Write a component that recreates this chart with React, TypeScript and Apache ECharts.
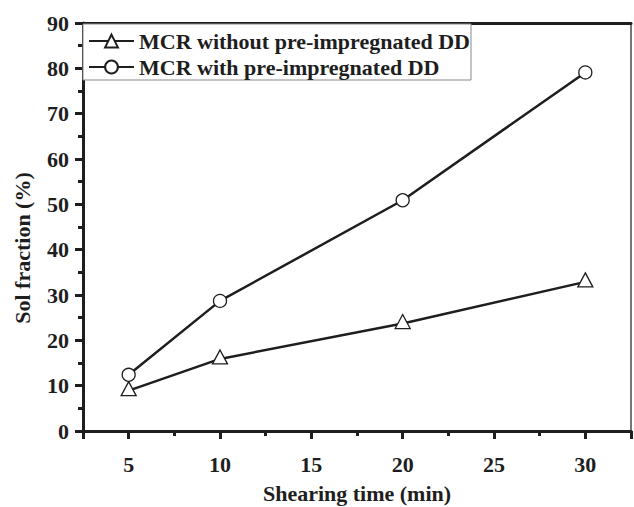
import React, { useEffect, useRef } from "react";
import * as echarts from "echarts";

const shearingTime = [5, 10, 20, 30];
const withoutPreImpregnated = [8.9, 15.9, 23.7, 32.9];
const withPreImpregnated = [12.4, 28.7, 50.9, 79.1];
const seriesNames = ["MCR without pre-impregnated DD", "MCR with pre-impregnated DD"];
const xTitle = "Shearing time (min)";
const yTitle = "Sol fraction (%)";

const FONT = "'Liberation Serif', 'Times New Roman', serif";
const INK = "#1e1e1e";

export default function App() {
  const ref = useRef<HTMLDivElement>(null);
  useEffect(() => {
    if (!ref.current) return;
    const chart = echarts.init(ref.current, null, { renderer: "svg" });
    const labelStyle = { fontFamily: FONT, fontWeight: "bold" as const, fontSize: 22, color: INK };
    chart.setOption({
      animation: false,
      backgroundColor: "#fff",
      grid: { left: 83, right: 2, top: 23, bottom: 76, containLabel: false },
      legend: {
        orient: "vertical",
        left: 83,
        top: 24,
        padding: [6, 1, 2, 5],
        itemGap: 4,
        itemWidth: 45,
        itemHeight: 16,
        borderColor: "#888",
        borderWidth: 1,
        backgroundColor: "#fff",
        textStyle: { ...labelStyle },
        data: seriesNames,
      },
      xAxis: [
        {
          type: "value",
          min: 2.5,
          max: 32.5,
          splitNumber: 6,
          axisLine: { show: true, lineStyle: { color: INK, width: 3 } },
          axisTick: { show: true, length: 8, lineStyle: { color: INK, width: 3 } },
          axisLabel: {
            ...labelStyle,
            margin: 22,
            formatter: (v: number) => (v % 5 === 0 ? String(v) : ""),
          },
          splitLine: { show: false },
        },
        {
          type: "value",
          min: 2.5,
          max: 32.5,
          interval: 2.5,
          position: "bottom",
          axisLine: { show: false },
          axisTick: { show: true, length: 5, lineStyle: { color: INK, width: 3 } },
          axisLabel: { show: false },
          splitLine: { show: false },
        },
        {
          type: "value",
          min: 2.5,
          max: 32.5,
          position: "top",
          axisLine: { show: true, lineStyle: { color: INK, width: 3 } },
          axisTick: { show: false },
          axisLabel: { show: false },
          splitLine: { show: false },
        },
      ],
      yAxis: [
        {
          type: "value",
          min: 0,
          max: 90,
          interval: 10,
          axisLine: { show: true, lineStyle: { color: INK, width: 3 } },
          axisTick: { show: true, length: 8, lineStyle: { color: INK, width: 3 } },
          minorTick: { show: true, splitNumber: 2, length: 5, lineStyle: { color: INK, width: 3 } },
          axisLabel: { ...labelStyle, margin: 14 },
          splitLine: { show: false },
        },
        {
          type: "value",
          min: 0,
          max: 90,
          position: "right",
          axisLine: { show: true, lineStyle: { color: "#777", width: 2 } },
          axisTick: { show: false },
          axisLabel: { show: false },
          splitLine: { show: false },
        },
      ],
      graphic: [
        {
          type: "text",
          x: 22,
          y: 248,
          rotation: Math.PI / 2,
          style: {
            text: yTitle,
            fontFamily: FONT,
            fontWeight: "bold",
            fontSize: 22,
            fill: INK,
            textAlign: "center",
            textVerticalAlign: "middle",
          },
        },
        {
          type: "text",
          x: 357,
          y: 493,
          style: {
            text: xTitle,
            fontFamily: FONT,
            fontWeight: "bold",
            fontSize: 22,
            fill: INK,
            textAlign: "center",
            textVerticalAlign: "middle",
          },
        },
      ],
      series: [
        {
          name: seriesNames[0],
          type: "line",
          data: shearingTime.map((t, i) => [t, withoutPreImpregnated[i]]),
          symbol: "triangle",
          symbolSize: [15, 14],
          symbolOffset: [0, -2],
          showAllSymbol: true,
          lineStyle: { color: INK, width: 2.5 },
          itemStyle: { color: "#fff", borderColor: INK, borderWidth: 1.3 },
          z: 3,
        },
        {
          name: seriesNames[1],
          type: "line",
          data: shearingTime.map((t, i) => [t, withPreImpregnated[i]]),
          symbol: "circle",
          symbolSize: 13,
          showAllSymbol: true,
          lineStyle: { color: INK, width: 2.5 },
          itemStyle: { color: "#fff", borderColor: INK, borderWidth: 1.3 },
          z: 3,
        },
      ],
    });
    return () => chart.dispose();
  }, []);
  return <div ref={ref} style={{ width: 634, height: 507, position: "absolute", left: 0, top: 0 }} />;
}
